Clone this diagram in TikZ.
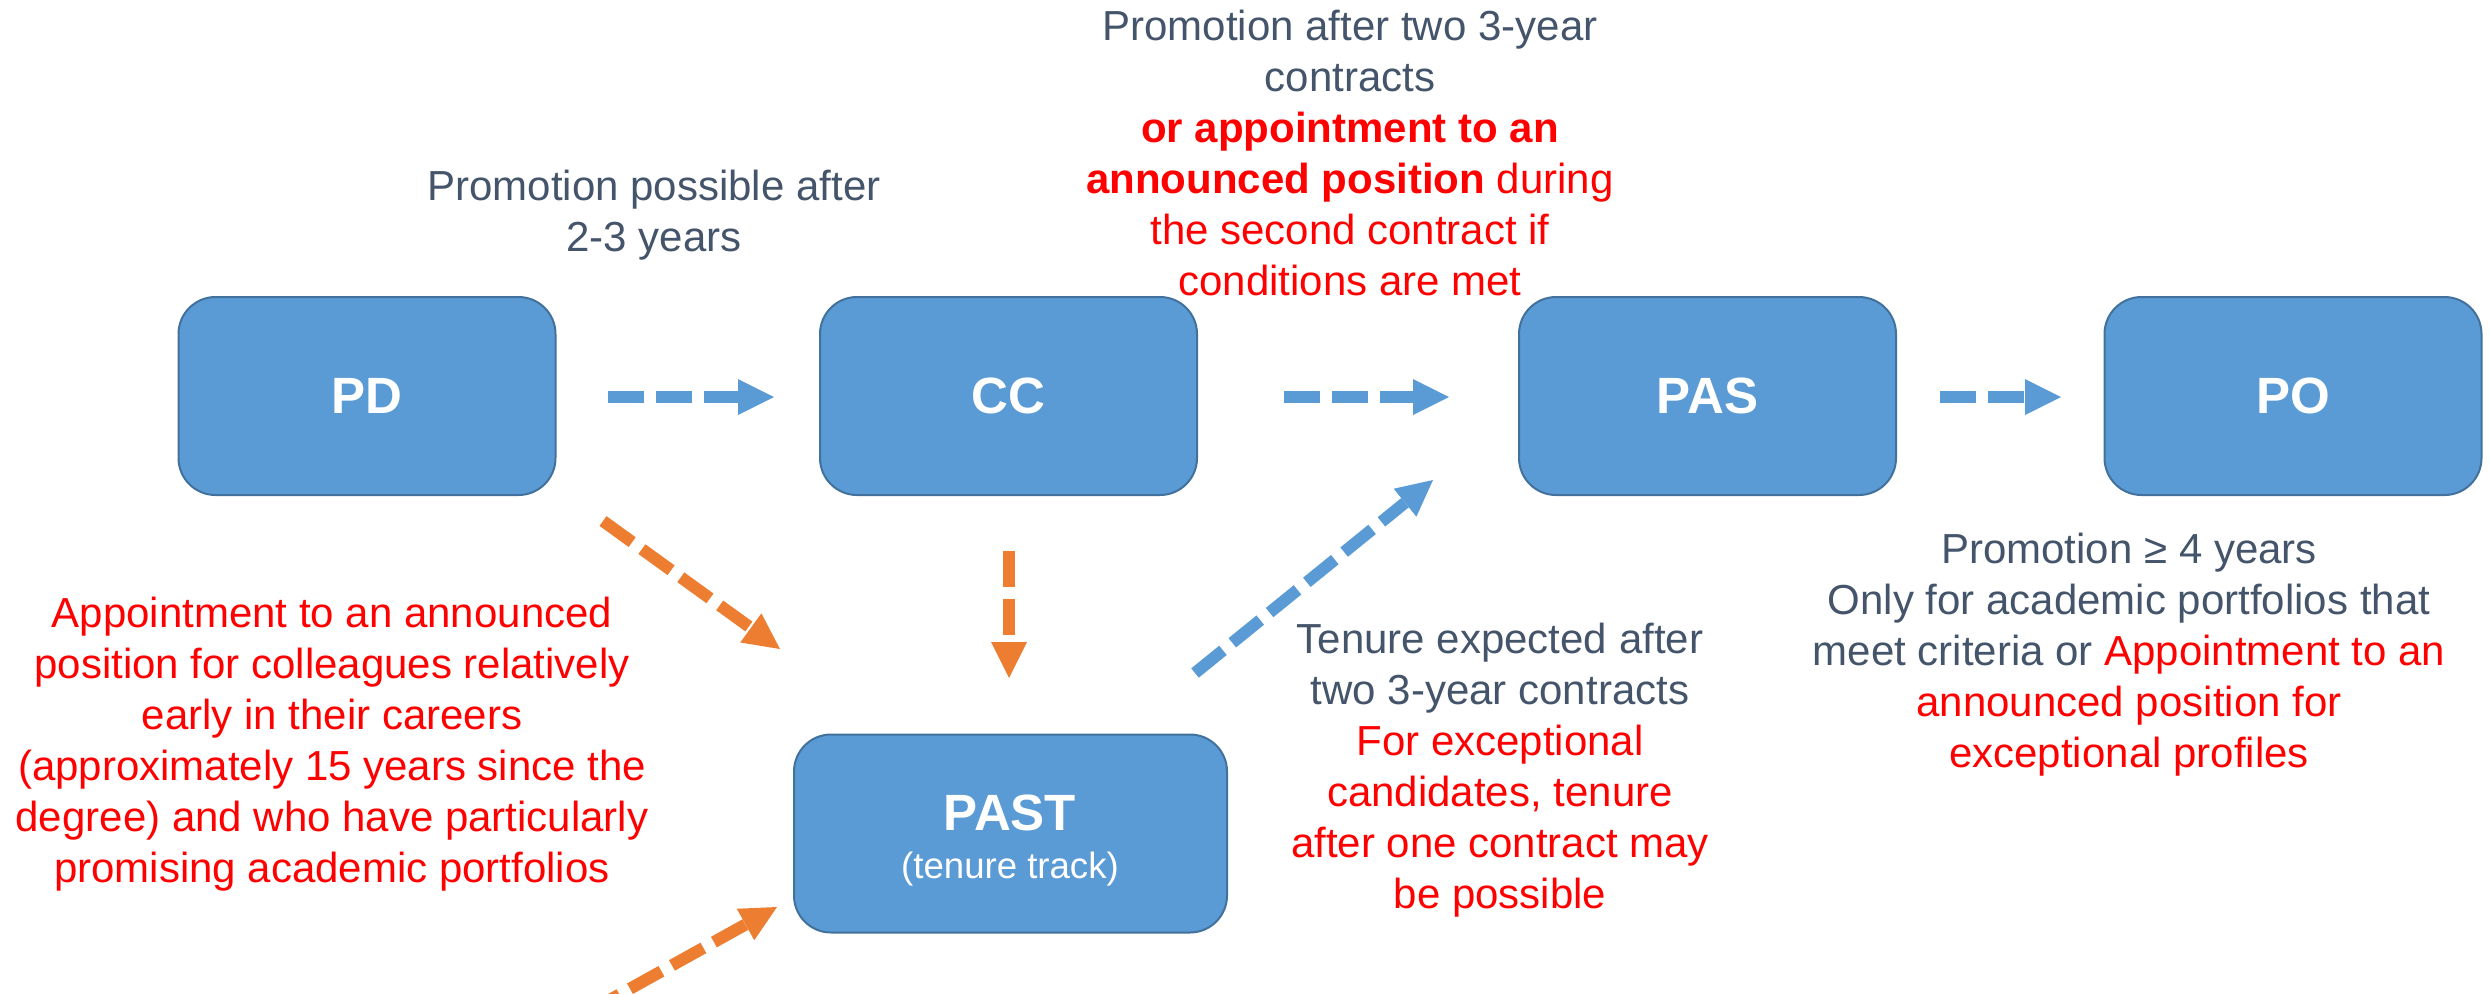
\documentclass[tikz,border=0pt]{standalone}
\usepackage{fontspec}
\setmainfont{Liberation Sans}
\usetikzlibrary{arrows.meta}
\definecolor{boxblue}{HTML}{5B9BD5}
\definecolor{boxedge}{HTML}{41719C}
\definecolor{arrorange}{HTML}{ED7D31}
\definecolor{txtgrey}{HTML}{44546A}
\definecolor{txtred}{HTML}{FF0000}
\newcommand{\mytab}[1]{\begin{tabular}[t]{@{}c@{}}#1\end{tabular}}
\begin{document}
\begin{tikzpicture}[x=0.5pt,y=-0.5pt,
  stage/.style={draw=boxedge, line width=1pt, fill=boxblue, rounded corners=18.5pt,
    minimum width=188.5pt, minimum height=99pt, inner sep=0pt, text=white,
    font=\fontsize{25.5}{30}\selectfont\bfseries},
  stagelabel/.style={anchor=base, inner sep=0pt, text=white},
  note/.style={anchor=base, inner sep=0pt, text=txtgrey, font=\fontsize{21}{25.5}\selectfont},
  flow/.style={line width=6pt, dash pattern=on 18pt off 6pt,
    -{Triangle[length=18pt,width=18pt,line width=0pt]}},
  blueflow/.style={flow, draw=boxblue},
  orangeflow/.style={flow, draw=arrorange},
]
\useasboundingbox (0,0) rectangle (2489,993);

% stages
\node[stage] (PD) at (367,396) {PD};
\node[stage] (CC) at (1008.5,396) {CC};
\node[stage] (PAS) at (1707.5,396) {PAS};
\node[stage] (PO) at (2293,396) {PO};
\node[stage, minimum width=216.5pt] (PAST) at (1010.5,833.5) {};
\node[stagelabel, font=\fontsize{25.5}{30}\selectfont\bfseries] (PASTname) at (1010,830) {PAST};
\node[stagelabel, font=\fontsize{18.3}{22}\selectfont] (PASTsub) at (1010,878) {(tenure track)};

% arrow end points
\coordinate (a1s) at (608,397);  \coordinate (a1e) at (774,397);
\coordinate (a2s) at (1284,397); \coordinate (a2e) at (1449,397);
\coordinate (a3s) at (1940,397); \coordinate (a3e) at (2061,397);
\coordinate (a4s) at (603,521);  \coordinate (a4e) at (780,649);
\coordinate (a5s) at (1009,551); \coordinate (a5e) at (1009,678);
\coordinate (a6s) at (1195,673); \coordinate (a6e) at (1433,480);
\coordinate (a7s) at (588,1012); \coordinate (a7e) at (777,907);

\draw[blueflow] (a1s) -- (a1e);
\draw[blueflow] (a2s) -- (a2e);
\draw[blueflow] (a3s) -- (a3e);
\draw[orangeflow] (a4s) -- (a4e);
\draw[orangeflow] (a5s) -- (a5e);
\draw[blueflow] (a6s) -- (a6e);
\draw[orangeflow] (a7s) -- (a7e);

% notes
\node[note] (n1) at (654,200) {\mytab{Promotion possible after\\2-3 years}};
\node[note] (n2) at (1350,40) {\mytab{Promotion after two 3-year\\contracts\\
  \color{txtred}\bfseries or appointment to an\\
  \color{txtred}{\bfseries announced position} during\\
  \color{txtred}the second contract if\\
  \color{txtred}conditions are met}};
\node[note, text=txtred] (n3) at (332,627) {\mytab{Appointment to an announced\\
  position for colleagues relatively\\early in their careers\\
  (approximately 15 years since the\\degree) and who have particularly\\
  promising academic portfolios}};
\node[note] (n4) at (1500,653) {\mytab{Tenure expected after\\two 3-year contracts\\
  \color{txtred}For exceptional\\\color{txtred}candidates, tenure\\
  \color{txtred}after one contract may\\\color{txtred}be possible}};
\node[note] (n5) at (2129,563) {\mytab{Promotion ≥ 4 years\\
  Only for academic portfolios that\\
  meet criteria or \textcolor{txtred}{Appointment to an}\\
  \color{txtred}announced position for\\\color{txtred}exceptional profiles}};
\end{tikzpicture}
\end{document}
